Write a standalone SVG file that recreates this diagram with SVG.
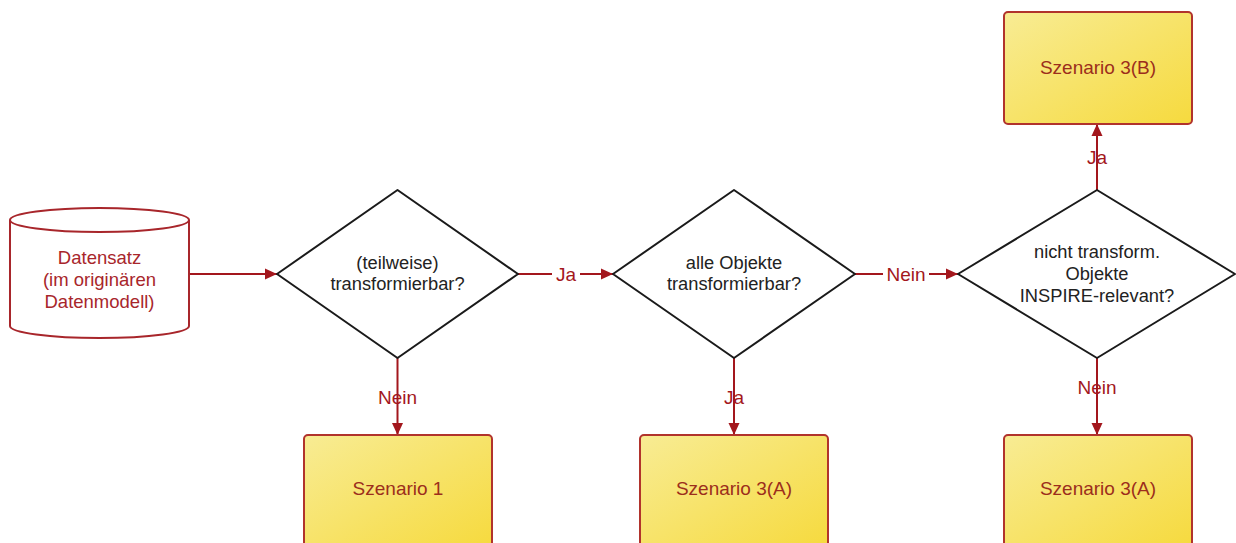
<svg xmlns="http://www.w3.org/2000/svg" width="1236" height="543" viewBox="0 0 1236 543">
  <defs>
    <linearGradient id="boxFill" x1="0" y1="0" x2="1" y2="1">
      <stop offset="0" stop-color="#f8ec94"/>
      <stop offset="1" stop-color="#f6da3e"/>
    </linearGradient>
    <marker id="arrow" viewBox="0 0 12 12" refX="12" refY="6" markerWidth="12" markerHeight="12" markerUnits="userSpaceOnUse" orient="auto">
      <path d="M0,0.5 L12,6 L0,11.5 Z" fill="#a3171d"/>
    </marker>
  </defs>
  <style>
    .box { fill: url(#boxFill); stroke: #b1332c; stroke-width: 2; }
    .boxText { font-family: "Liberation Sans", Arial, sans-serif; font-size: 19px; fill: #9c2e1c; text-anchor: middle; }
    .decision { fill: #ffffff; stroke: #1a1a1a; stroke-width: 2; stroke-linejoin: round; }
    .decisionText { font-family: "Liberation Sans", Arial, sans-serif; font-size: 18.3px; fill: #222222; text-anchor: middle; }
    .store { fill: #ffffff; stroke: #a8262b; stroke-width: 2; }
    .storeText { font-family: "Liberation Sans", Arial, sans-serif; font-size: 18.5px; fill: #a8262b; text-anchor: middle; }
    .edge { fill: none; stroke: #a3171d; stroke-width: 2; marker-end: url(#arrow); }
    .edgeLabel { font-family: "Liberation Sans", Arial, sans-serif; font-size: 19px; fill: #a3171d; text-anchor: middle; }
    .labelBg { fill: #ffffff; }
  </style>
  <rect width="1236" height="543" fill="#ffffff"/>

  <!-- connectors -->
  <g id="connectors">
    <path class="edge" d="M189,274 L277,274"/>
    <path class="edge" d="M518,274 L613,274"/>
    <rect class="labelBg" x="552" y="263" width="28" height="22"/>
    <text class="edgeLabel" x="566" y="281">Ja</text>
    <path class="edge" d="M855,274 L958,274"/>
    <rect class="labelBg" x="883" y="263" width="46" height="22"/>
    <text class="edgeLabel" x="906" y="281">Nein</text>
    <path class="edge" d="M397.5,358 L397.5,435"/>
    <text class="edgeLabel" x="397.5" y="404">Nein</text>
    <path class="edge" d="M734,358 L734,435"/>
    <text class="edgeLabel" x="734" y="404">Ja</text>
    <path class="edge" d="M1097,190 L1097,124"/>
    <text class="edgeLabel" x="1097" y="164">Ja</text>
    <path class="edge" d="M1097,358 L1097,435"/>
    <text class="edgeLabel" x="1097" y="394">Nein</text>
  </g>

  <!-- data store -->
  <g id="datensatz">
    <path class="store" d="M10,220 A89.5,12 0 0 1 189,220 L189,326 A89.5,12 0 0 1 10,326 Z"/>
    <path class="store" d="M10,220 A89.5,12 0 0 0 189,220"/>
    <text class="storeText" x="99.5" y="264">Datensatz</text>
    <text class="storeText" x="99.5" y="286">(im originären</text>
    <text class="storeText" x="99.5" y="308">Datenmodell)</text>
  </g>

  <!-- decisions -->
  <g id="decision-transformierbar">
    <path class="decision" d="M397.5,190 L518,274 L397.5,358 L277,274 Z"/>
    <text class="decisionText" x="397.5" y="269">(teilweise)</text>
    <text class="decisionText" x="397.5" y="290">transformierbar?</text>
  </g>
  <g id="decision-alle-objekte">
    <path class="decision" d="M734,190 L855,274 L734,358 L613,274 Z"/>
    <text class="decisionText" x="734" y="269">alle Objekte</text>
    <text class="decisionText" x="734" y="290">transformierbar?</text>
  </g>
  <g id="decision-inspire">
    <path class="decision" d="M1097,190 L1235,274 L1097,358 L958,274 Z"/>
    <text class="decisionText" x="1097" y="258">nicht transform.</text>
    <text class="decisionText" x="1097" y="280">Objekte</text>
    <text class="decisionText" x="1097" y="302">INSPIRE-relevant?</text>
  </g>

  <!-- outcomes -->
  <g id="szenario-3b">
    <rect class="box" x="1004" y="12" width="188" height="112" rx="4"/>
    <text class="boxText" x="1098" y="74">Szenario 3(B)</text>
  </g>
  <g id="szenario-1">
    <rect class="box" x="304" y="435" width="188" height="112" rx="4"/>
    <text class="boxText" x="398" y="495">Szenario 1</text>
  </g>
  <g id="szenario-3a-mitte">
    <rect class="box" x="640" y="435" width="188" height="112" rx="4"/>
    <text class="boxText" x="734" y="495">Szenario 3(A)</text>
  </g>
  <g id="szenario-3a-rechts">
    <rect class="box" x="1004" y="435" width="188" height="112" rx="4"/>
    <text class="boxText" x="1098" y="495">Szenario 3(A)</text>
  </g>
</svg>
